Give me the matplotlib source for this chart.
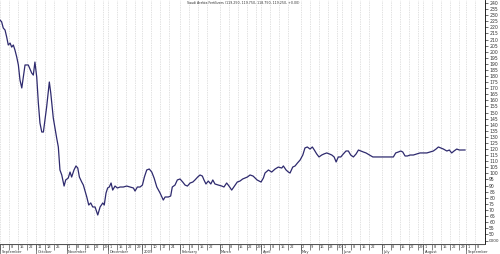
import numpy as np
import matplotlib.pyplot as plt

# trading session index (x) and closing price
session = [0.0, 0.9, 1.8, 2.8, 3.7, 4.6, 5.6, 6.5, 7.4, 8.3, 9.3, 10.2, 11.1, 12.1,
           13.9, 15.7, 17.6, 18.5, 19.4, 20.4, 21.3, 22.2, 23.2, 24.1, 25.9, 27.4,
           28.2, 29.6, 31.5, 32.4, 33.3, 34.3, 35.6, 36.5, 37.9, 38.9, 39.8, 41.1,
           42.2, 43.2, 44.1, 45.4, 46.3, 48.2, 49.3, 50.4, 51.5, 52.8, 54.3, 55.6,
           57.1, 57.9, 58.9, 59.8, 60.7, 61.7, 62.6, 63.9, 65.2, 66.7, 68.5, 70.4,
           72.2, 74.1, 75.0, 76.3, 77.8, 79.1, 80.2, 81.5, 82.9, 84.3, 85.6, 87.1,
           88.9, 90.7, 91.7, 93.5, 94.8, 95.7, 97.2, 98.5, 100.0, 101.5, 102.8,
           104.1, 105.6, 107.1, 108.3, 109.8, 111.1, 112.4, 113.3, 114.4, 115.7,
           117.1, 118.2, 119.4, 121.3, 123.2, 124.4, 125.9, 127.2, 128.7, 130.6,
           131.8, 133.3, 134.8, 136.1, 137.4, 138.9, 140.6, 142.8, 145.0, 146.3,
           147.2, 149.1, 150.9, 152.8, 154.6, 156.5, 157.4, 158.9, 160.2, 161.1,
           162.6, 163.9, 165.2, 166.7, 168.2, 169.4, 170.7, 172.2, 173.5, 174.6,
           175.9, 177.2, 178.7, 180.0, 181.5, 182.9, 184.3, 185.6, 186.7, 187.9,
           189.3, 190.7, 192.2, 193.5, 194.8, 196.3, 197.8, 199.1, 200.4, 201.8,
           203.3, 205.2, 207.1, 208.9, 211.1, 212.9, 214.8, 216.7, 218.5, 219.8,
           221.3, 222.6, 223.7, 225.0, 226.3, 227.8, 229.6, 231.5, 233.3, 235.2,
           237.1, 238.9, 240.7, 242.2, 243.5, 244.8, 246.3, 248.2, 249.6, 250.9,
           252.2, 253.7, 255.2, 256.5, 258.3]
close = [226.0, 224.6, 219.5, 217.8, 212.1, 205.5, 207.1, 203.8, 205.5, 201.4, 195.6,
         189.1, 176.7, 170.2, 189.1, 189.1, 182.5, 180.8, 191.5, 179.2, 157.8, 141.4,
         134.0, 134.0, 154.5, 175.1, 166.0, 145.5, 128.9, 121.7, 102.8, 98.7, 89.6,
         94.6, 96.2, 101.1, 97.0, 102.8, 106.1, 104.4, 97.0, 92.9, 90.4, 80.6, 74.0,
         75.7, 72.4, 72.4, 65.8, 72.4, 75.7, 74.0, 83.9, 88.0, 88.8, 92.1, 86.3, 89.6,
         88.0, 88.8, 88.8, 89.6, 88.8, 88.0, 85.5, 88.8, 88.8, 90.4, 97.0, 102.8,
         103.6, 101.1, 96.2, 88.8, 83.9, 78.1, 80.6, 80.6, 81.4, 88.8, 90.4, 94.6,
         95.4, 92.9, 90.4, 89.6, 92.1, 92.9, 94.6, 97.0, 98.7, 97.8, 94.6, 91.3, 93.7,
         91.3, 94.6, 91.3, 90.4, 89.6, 88.8, 92.1, 89.6, 86.3, 90.4, 92.9, 93.7, 95.4,
         96.2, 97.0, 98.7, 97.8, 94.6, 92.9, 96.2, 100.3, 102.8, 101.1, 103.6, 105.2,
         104.4, 106.1, 102.8, 101.1, 100.3, 105.2, 106.1, 108.5, 111.0, 115.1, 120.9,
         121.7, 120.0, 121.7, 119.2, 116.0, 113.5, 115.1, 116.0, 116.8, 116.0, 115.1,
         113.5, 109.4, 113.5, 113.5, 116.0, 118.4, 118.4, 115.1, 113.5, 116.0, 119.2,
         118.4, 117.6, 116.8, 115.1, 113.5, 113.5, 113.5, 113.5, 113.5, 113.5, 113.5,
         116.8, 117.6, 118.4, 117.6, 114.3, 114.3, 115.1, 115.1, 116.0, 116.8, 116.8,
         116.8, 117.6, 118.4, 120.0, 121.7, 120.9, 120.0, 118.4, 119.2, 116.8, 118.4,
         120.0, 119.2, 119.2, 119.25]

month_names = ["September", "October", "November", "December", "2009", "February",
               "March", "April", "May", "June", "July", "August", "September"]
month_start = [0, 20, 37, 60, 79, 100, 122, 145, 167, 190, 212, 235, 259]
week_days = [["1", "8", "15", "22"], ["11", "18", "25"], ["1", "8", "15", "22", "29"],
             ["1", "15", "22", "29"], ["3", "10", "17", "24"], ["1", "8", "15", "22"],
             ["1", "8", "15", "22", "29"], ["1", "8", "15", "22"],
             ["2", "9", "16", "23", "30"], ["1", "8", "15", "22"],
             ["1", "8", "15", "22", "29"], ["1", "8", "15", "22", "29"], ["1", "8"]]

title = "Saudi Arabia Fertilizers (119.250, 119.750, 118.750, 119.250, +0.00)"

xmin, xmax = 0, 269.4
fig = plt.figure(figsize=(5, 2.54), dpi=100)

# weekly tick positions inside each month
week_pos = []
week_lab = []
for s, days in zip(month_start, week_days):
    for k, d in enumerate(days):
        week_pos.append(s + 5 * k)
        week_lab.append(d)

# main price panel
ax = fig.add_axes([0, 16 / 254, 485 / 500, 238 / 254])
ax.plot(session, close, color="#2e2a6e", lw=0.9)
ax.set_xlim(xmin, xmax)
ax.set_ylim(46.9, 242.5)
ax.set_xticks(week_pos)
ax.tick_params(axis="x", length=0, labelbottom=False)
ax.grid(axis="x", linestyle=(0, (1, 1.5)), color="#c4c4c4", lw=0.5)
ax.yaxis.tick_right()
ax.set_yticks(np.arange(50, 241, 5))
ax.tick_params(axis="y", length=2, width=0.5, pad=1, labelsize=3.3, colors="#333333")
for side in ["left", "top"]:
    ax.spines[side].set_visible(False)
ax.spines["right"].set_linewidth(0.6)
ax.spines["bottom"].set_color("#888888")
ax.spines["bottom"].set_linewidth(0.6)
fig.text(243 / 500, 1 - 3.5 / 254, title, ha="center", va="center", fontsize=2.6,
         color="#333333", fontstretch="condensed")

# empty volume strip
axv = fig.add_axes([0, 10 / 254, 485 / 500, 6 / 254])
axv.set_xlim(xmin, xmax)
axv.set_xticks(week_pos)
axv.tick_params(axis="x", length=0, labelbottom=False)
axv.grid(axis="x", linestyle=(0, (1, 1.5)), color="#c4c4c4", lw=0.5)
axv.yaxis.tick_right()
axv.set_yticks([0.5])
axv.set_yticklabels(["0000"])
axv.tick_params(axis="y", length=2, width=0.5, pad=1, labelsize=3.0, colors="#333333")
for side in ["left", "top", "bottom"]:
    axv.spines[side].set_visible(False)
axv.spines["right"].set_linewidth(0.6)

# date strip
axd = fig.add_axes([0, 0, 485 / 500, 10 / 254])
axd.set_xlim(xmin, xmax)
axd.set_ylim(0, 1)
axd.axis("off")
axd.axhline(1, color="#555555", lw=0.8)
axd.vlines(week_pos, 0.45, 1, color="#555555", lw=0.5)
axd.vlines(month_start, 0, 1, color="#555555", lw=0.5)
for p, d in zip(week_pos, week_lab):
    axd.text(p + 0.8, 0.72, d, fontsize=2.6, ha="left", va="center", color="#333333")
for p, m in zip(month_start, month_names):
    axd.text(p + 0.8, 0.2, m, fontsize=2.6, ha="left", va="center", color="#333333")

fig.savefig("out.png", dpi=100)
